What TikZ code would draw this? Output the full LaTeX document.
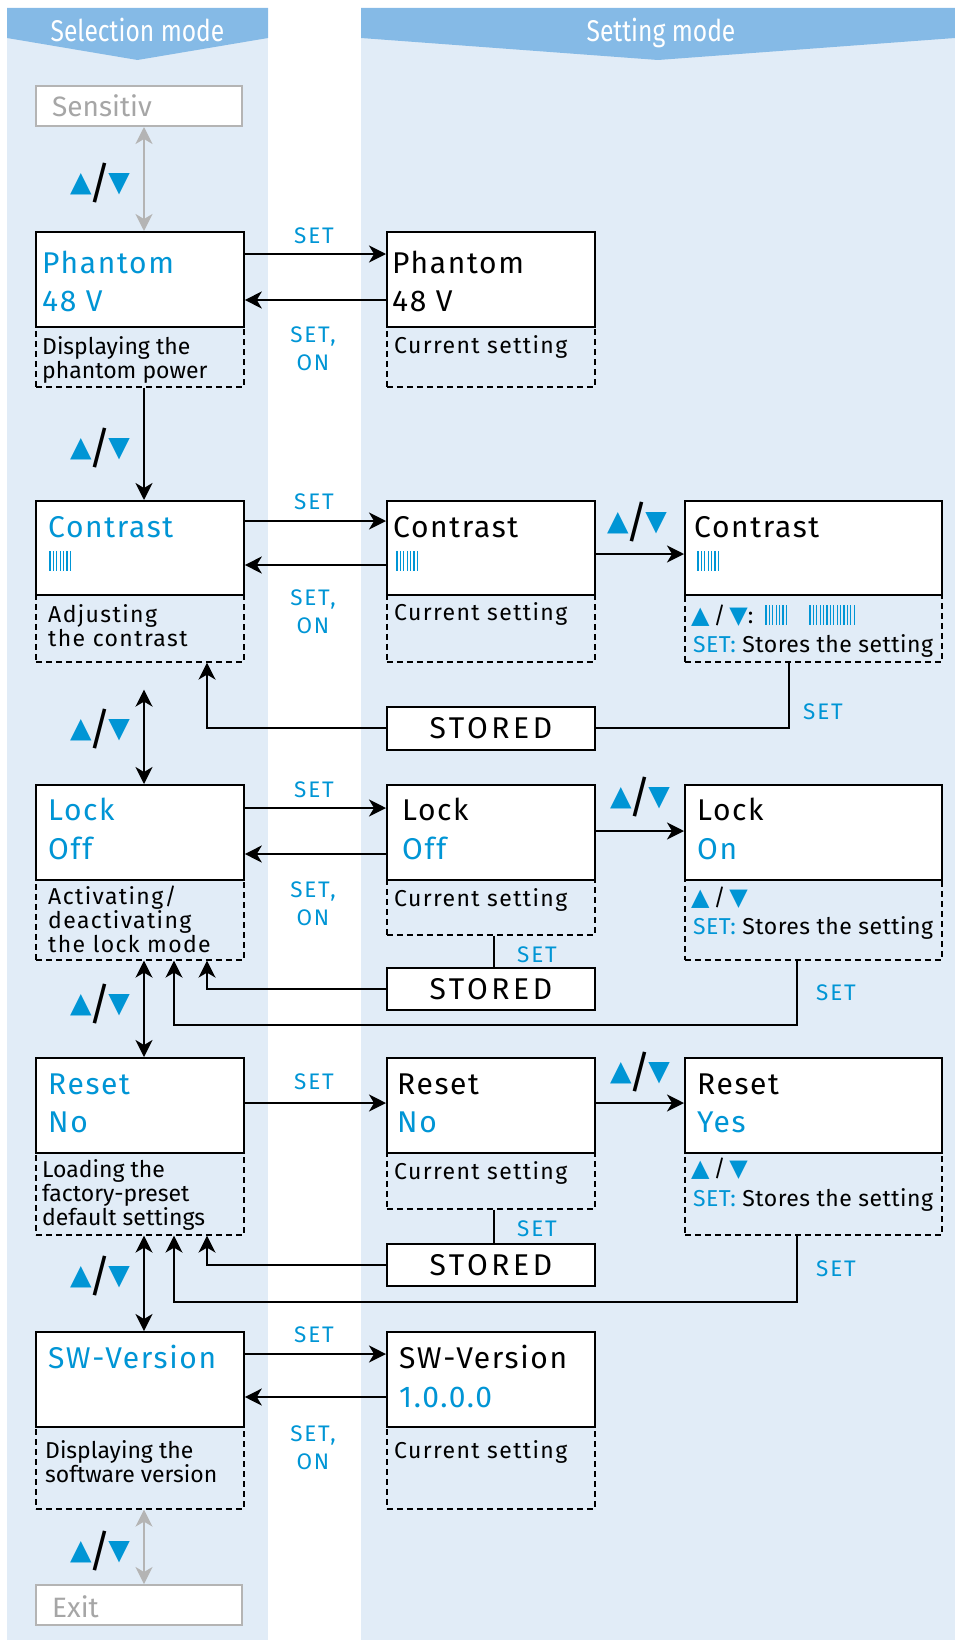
\documentclass[tikz,border=0pt]{standalone}
\usepackage{fontspec}
\setmainfont{Fira Sans}
\newfontfamily\lsf[LetterSpace=6]{Fira Sans}
\newfontfamily\tsf[LetterSpace=2]{Fira Sans}
\newfontfamily\bigff[LetterSpace=5.5]{Fira Sans}
\newfontfamily\stff[LetterSpace=12]{Fira Sans}
\newfontfamily\setff[LetterSpace=8]{Fira Sans}
\newfontfamily\symf{DejaVu Sans}
\newfontfamily\condf[FakeStretch=0.82]{Fira Sans}
\usetikzlibrary{arrows.meta,calc}
\definecolor{sblue}{HTML}{0095D5}
\definecolor{panelc}{HTML}{E1ECF7}
\definecolor{headc}{HTML}{85BAE6}
\definecolor{lgray}{HTML}{B4B4B4}
\definecolor{tgray}{HTML}{A6A6A6}
\newcommand\bigf{\bigff\fontsize{30}{38}\selectfont}
\newcommand\stf{\stff\fontsize{30}{38}\selectfont}
\newcommand\smf{\fontsize{23}{24}\selectfont}
\newcommand\lsmf{\lsf\fontsize{23}{24}\selectfont}
\newcommand\tsmf{\tsf\fontsize{23}{24}\selectfont}
\newcommand\setf{\setff\fontsize{22.5}{28}\selectfont}
\newcommand\udl{{\symf\fontsize{28}{28}\selectfont\color{sblue}▲}\kern-3pt\raisebox{-7pt}{\fontsize{44}{44}\selectfont /}\kern-3pt{\symf\fontsize{28}{28}\selectfont\color{sblue}▼}}
\newcommand\uds{{\symf\fontsize{24}{24}\selectfont\color{sblue}▲}\,/\,{\symf\fontsize{24}{24}\selectfont\color{sblue}▼}}
\newcommand\drawbars[4]{\foreach \i in {0,...,#3}{\draw[sblue,line width=1.3pt] ({#1+3.4*\i},#2) -- ({#1+3.4*\i},{#2+#4});}}
\begin{document}
\begin{tikzpicture}[x=1pt,y=-1pt,
  box/.style={draw=black,line width=1.8pt,fill=white,anchor=north west,inner sep=0pt,minimum width=208pt,minimum height=95pt},
  wbox/.style={box,minimum width=257pt},
  stbox/.style={box,minimum height=43pt,font=\stf},
  dbox/.style={draw=black,line width=1.6pt,dash pattern=on 6pt off 4pt,anchor=north west,inner sep=0pt,minimum width=208pt},
  wdbox/.style={dbox,minimum width=257pt},
  gbox/.style={draw=lgray,line width=2pt,fill=white,anchor=north west,inner sep=0pt,minimum width=206pt,minimum height=40pt},
  tx/.style={anchor=base west,inner sep=0pt},
  ttl/.style={tx,font=\bigf},
  dsc/.style={tx,font=\smf,align=left},
  ldsc/.style={tx,font=\lsmf,align=left},
  lbl/.style={text=sblue,font=\setf,inner sep=0pt,align=center},
  ud/.style={inner sep=0pt},
  arr/.style={-{Stealth[length=17pt,width=17pt,inset=5pt]},line width=2pt},
  darr/.style={{Stealth[length=17pt,width=17pt,inset=5pt]}-{Stealth[length=17pt,width=17pt,inset=5pt]},line width=2pt},
  garr/.style={darr,draw=lgray,color=lgray},
  ln/.style={line width=2pt}]
\useasboundingbox (0,0) rectangle (955,1640);
% panels
\fill[panelc] (7,8) rectangle (268,1640);
\fill[panelc] (361,8) rectangle (955,1640);
\fill[headc] (7,8) -- (268,8) -- (268,38) -- (137.5,60) -- (7,38) -- cycle;
\fill[headc] (361,8) -- (955,8) -- (955,38) -- (658,60) -- (361,38) -- cycle;
\node[anchor=base,inner sep=0pt,text=white,font=\condf\fontsize{30}{32}\selectfont] (h1) at (137.5,42) {Selection mode};
\node[anchor=base,inner sep=0pt,text=white,font=\condf\fontsize{30}{32}\selectfont] (h2) at (661,42) {Setting mode};
\coordinate (ax) at (144,0);
\coordinate (bx) at (207,0);
\coordinate (cx) at (174,0);
\coordinate (sx) at (494,0);
\coordinate (dx) at (797,0);
\coordinate (ex) at (789,0);
% Sensitiv
\node[gbox] (sens) at (35,85) {};
\node[ttl,text=tgray,font=\fontsize{28}{30}\selectfont] (senst) at (52,117) {Sensitiv};
% Phantom row
\node[dbox,minimum height=155pt] (phd) at (35,231) {};
\node[box] (ph) at (35,231) {};
\node[dbox,minimum height=155pt] (ph2d) at (386,231) {};
\node[box] (ph2) at (386,231) {};
\node[ttl,text=sblue] (pht) at (42,273) {Phantom};
\node[ttl,text=sblue] (phv) at (42,311) {48 V};
\node[ttl] (ph2t) at (392,273) {Phantom};
\node[ttl] (ph2v) at (392,311) {48 V};
\node[dsc] (phdt) at (42,378) {Displaying the\\phantom power};
\node[ldsc] (ph2dt) at (394,353) {Current setting};
% Contrast row
\node[dbox,minimum height=161pt] (cond) at (35,500) {};
\node[box,minimum height=94pt] (con) at (35,500) {};
\node[dbox,minimum height=161pt] (con2d) at (386,500) {};
\node[box,minimum height=94pt] (con2) at (386,500) {};
\node[wdbox,minimum height=161pt] (con3d) at (684,500) {};
\node[wbox,minimum height=94pt] (con3) at (684,500) {};
\node[ttl,text=sblue] (cont) at (48,537) {Contrast};
\node[ttl] (con2t) at (393,537) {Contrast};
\node[ttl] (con3t) at (694,537) {Contrast};
\drawbars{50}{551}{6}{20}
\drawbars{397}{551}{6}{20}
\drawbars{698}{551}{6}{20}
\node[ldsc] (condt) at (48,646) {Adjusting\\the contrast};
\node[ldsc] (con2dt) at (394,620) {Current setting};
\node[tx,font=\smf] (con3dt1) at (691,623) {\uds:};
\drawbars{766}{605}{6}{20}
\drawbars{810}{605}{13}{20}
\node[tx,font=\tsmf] (con3dt2) at (693,652) {\textcolor{sblue}{SET:} Stores the setting};
\node[stbox] (st1) at (386,706) {STORED};
% Lock row
\node[dbox,minimum height=175pt] (lockd) at (35,784) {};
\node[box] (lock) at (35,784) {};
\node[dbox,minimum height=150pt] (lock2d) at (386,784) {};
\node[box] (lock2) at (386,784) {};
\node[wdbox,minimum height=175pt] (lock3d) at (684,784) {};
\node[wbox] (lock3) at (684,784) {};
\node[ttl,text=sblue] (lockt) at (48,820) {Lock};
\node[ttl,text=sblue] (lockv) at (48,859) {Off};
\node[ttl] (lock2t) at (402,820) {Lock};
\node[ttl,text=sblue] (lock2v) at (402,859) {Off};
\node[ttl] (lock3t) at (697,820) {Lock};
\node[ttl,text=sblue] (lock3v) at (697,859) {On};
\node[ldsc] (lockdt) at (48,952) {Activating/\\deactivating\\the lock mode};
\node[ldsc] (lock2dt) at (394,906) {Current setting};
\node[tx,font=\smf] (lock3dt1) at (691,905) {\uds};
\node[tx,font=\tsmf] (lock3dt2) at (693,934) {\textcolor{sblue}{SET:} Stores the setting};
\node[stbox,minimum height=42pt] (st2) at (386,967) {STORED};
% Reset row
\node[dbox,minimum height=177pt] (resetd) at (35,1057) {};
\node[box] (reset) at (35,1057) {};
\node[dbox,minimum height=151pt] (reset2d) at (386,1057) {};
\node[box] (reset2) at (386,1057) {};
\node[wdbox,minimum height=177pt] (reset3d) at (684,1057) {};
\node[wbox] (reset3) at (684,1057) {};
\node[ttl,text=sblue] (resett) at (48,1094) {Reset};
\node[ttl,text=sblue] (resetv) at (48,1132) {No};
\node[ttl] (reset2t) at (397,1094) {Reset};
\node[ttl,text=sblue] (reset2v) at (397,1132) {No};
\node[ttl] (reset3t) at (697,1094) {Reset};
\node[ttl,text=sblue] (reset3v) at (697,1132) {Yes};
\node[dsc] (resetdt) at (42,1225) {Loading the\\factory-preset\\default settings};
\node[ldsc] (reset2dt) at (394,1179) {Current setting};
\node[tx,font=\smf] (reset3dt1) at (691,1176) {\uds};
\node[tx,font=\tsmf] (reset3dt2) at (693,1206) {\textcolor{sblue}{SET:} Stores the setting};
\node[stbox,minimum height=42pt] (st3) at (386,1243) {STORED};
% SW row
\node[dbox,minimum height=177pt] (swd) at (35,1331) {};
\node[box] (sw) at (35,1331) {};
\node[dbox,minimum height=177pt] (sw2d) at (386,1331) {};
\node[box] (sw2) at (386,1331) {};
\node[ttl,text=sblue] (swt) at (48,1368) {SW-Version};
\node[ttl] (sw2t) at (399,1368) {SW-Version};
\node[ttl,text=sblue] (sw2v) at (399,1407) {1.0.0.0};
\node[dsc] (swdt) at (45,1482) {Displaying the\\software version};
\node[ldsc] (sw2dt) at (394,1458) {Current setting};
% Exit
\node[gbox] (exit) at (35,1584) {};
\node[ttl,text=tgray,font=\fontsize{28}{30}\selectfont] (exitt) at (52,1617) {Exit};
% connectors col1 vertical
\draw[garr] (sens.south -| ax) -- (ph.north -| ax);
\draw[arr] (phd.south -| ax) -- (con.north -| ax);
\coordinate (cgap) at ($(cond.south -| ax)+(0,27)$);
\draw[darr] (cgap) -- (lock.north -| ax);
\draw[darr] (lockd.south -| ax) -- (reset.north -| ax);
\draw[darr] (resetd.south -| ax) -- (sw.north -| ax);
\draw[garr] (swd.south -| ax) -- (exit.north -| ax);
% phantom horizontals
\draw[arr] ([yshift=-23pt]ph.north east) -- ([yshift=-23pt]ph2.north west);
\draw[arr] ([yshift=-69pt]ph2.north west) -- ([yshift=-69pt]ph.north east);
% contrast
\draw[arr] ([yshift=-21pt]con.north east) -- ([yshift=-21pt]con2.north west);
\draw[arr] ([yshift=-65pt]con2.north west) -- ([yshift=-65pt]con.north east);
\draw[arr] ([yshift=-54pt]con2.north east) -- ([yshift=-54pt]con3.north west);
\draw[ln] (con3d.south -| ex) |- (st1.east);
\draw[arr] (st1.west) -| (cond.south -| bx);
% lock
\draw[arr] ([yshift=-24pt]lock.north east) -- ([yshift=-24pt]lock2.north west);
\draw[arr] ([yshift=-70pt]lock2.north west) -- ([yshift=-70pt]lock.north east);
\draw[arr] ([yshift=-47pt]lock2.north east) -- ([yshift=-47pt]lock3.north west);
\draw[ln] (lock2d.south -| sx) -- (st2.north -| sx);
\draw[arr] (st2.west) -| (lockd.south -| bx);
\draw[arr] (lock3d.south -| dx) |- ($(lockd.south -| cx)+(0,64)$) -- (lockd.south -| cx);
% reset
\draw[arr] ([yshift=-46pt]reset.north east) -- ([yshift=-46pt]reset2.north west);
\draw[arr] ([yshift=-46pt]reset2.north east) -- ([yshift=-46pt]reset3.north west);
\draw[ln] (reset2d.south -| sx) -- (st3.north -| sx);
\draw[arr] (st3.west) -| (resetd.south -| bx);
\draw[arr] (reset3d.south -| dx) |- ($(resetd.south -| cx)+(0,66)$) -- (resetd.south -| cx);
% sw
\draw[arr] ([yshift=-23pt]sw.north east) -- ([yshift=-23pt]sw2.north west);
\draw[arr] ([yshift=-66pt]sw2.north west) -- ([yshift=-66pt]sw.north east);
% labels
\node[ud] (u1) at (100,183) {\udl};
\node[ud] (u2) at (100,448) {\udl};
\node[ud] (u3) at (100,729) {\udl};
\node[ud] (u4) at (100,1004) {\udl};
\node[ud] (u5) at (100,1276) {\udl};
\node[ud] (u6) at (100,1551) {\udl};
\node[ud] (u7) at (637,522) {\udl};
\node[ud] (u8) at (640,797) {\udl};
\node[ud] (u9) at (640,1072) {\udl};
\node[lbl] (s1) at (314,236) {SET};
\node[lbl] (s2) at (314,502) {SET};
\node[lbl] (s3) at (314,790) {SET};
\node[lbl] (s4) at (314,1082) {SET};
\node[lbl] (s5) at (314,1335) {SET};
\node[lbl] (so1) at (313,349) {SET,\\ON};
\node[lbl] (so2) at (313,612) {SET,\\ON};
\node[lbl] (so3) at (313,904) {SET,\\ON};
\node[lbl] (so4) at (313,1448) {SET,\\ON};
\node[lbl] (s6) at (823,712) {SET};
\node[lbl] (s7) at (836,993) {SET};
\node[lbl] (s8) at (836,1269) {SET};
\node[lbl] (s9) at (537,955) {SET};
\node[lbl] (s10) at (537,1229) {SET};
\end{tikzpicture}
\end{document}
